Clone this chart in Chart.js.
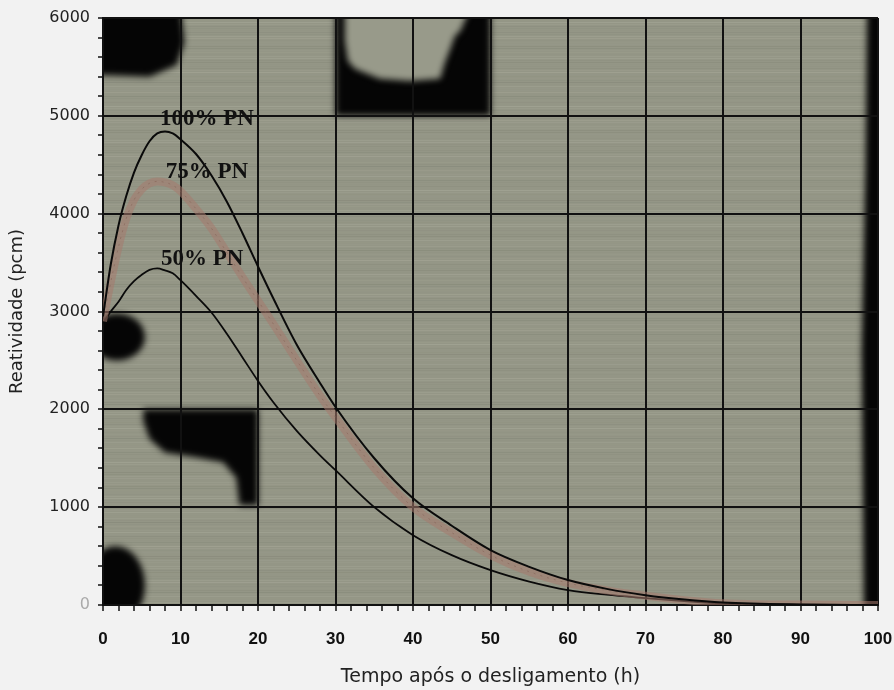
<!DOCTYPE html>
<html>
<head>
<meta charset="utf-8">
<script src="https://cdn.jsdelivr.net/npm/chart.js@4.4.1/dist/chart.umd.min.js"></script>
<style>
  html, body { margin: 0; padding: 0; background: #f2f2f2; }
  #wrap { width: 894px; height: 690px; }
</style>
</head>
<body>
<div id="wrap"><canvas id="chartXenonio"></canvas></div>
<script>
// tempo apos o desligamento (h)
var tempo = [0, 1, 2, 3, 4, 5, 6, 7, 8, 9, 10, 12, 14, 16, 18, 20, 22, 25, 28, 30, 35, 40, 45, 50, 55, 60, 65, 70, 75, 80, 90, 100];
// reatividade (pcm)
var pn100 = [2950, 3480, 3880, 4180, 4420, 4600, 4740, 4820, 4840, 4820, 4760, 4610, 4390, 4120, 3800, 3460, 3130, 2660, 2270, 2024, 1500, 1090, 810, 561, 390, 255, 165, 100, 55, 25, 5, 0];
var pn75 = [2900, 3300, 3660, 3950, 4140, 4250, 4310, 4330, 4320, 4290, 4230, 4050, 3850, 3600, 3350, 3110, 2870, 2500, 2140, 1920, 1400, 1000, 740, 510, 340, 224, 150, 95, 50, 18, 4, 0];
var pn50 = [2880, 3000, 3100, 3220, 3310, 3375, 3425, 3440, 3420, 3390, 3320, 3160, 2990, 2770, 2530, 2290, 2070, 1780, 1530, 1378, 1000, 714, 510, 357, 240, 153, 105, 71, 40, 15, 3, 0];
var rotulos = ['100% PN', '75% PN', '50% PN'];

function pontos(vals) {
  return tempo.map(function(t, i) { return {x: t, y: vals[i]}; });
}

// fundo "fotocopiado": cor esverdeada, riscos horizontais e manchas pretas
var fundo = {
  id: 'fundo',
  beforeDraw: function(chart) {
    var c = chart.ctx, a = chart.chartArea, sx = chart.scales.x, sy = chart.scales.y;
    function X(v) { return sx.getPixelForValue(v); }
    function Y(v) { return sy.getPixelForValue(v); }
    c.save();
    c.beginPath();
    c.rect(a.left, a.top, a.right - a.left, a.bottom - a.top);
    c.clip();
    c.fillStyle = 'rgb(148,150,134)';
    c.fillRect(a.left, a.top, a.right - a.left, a.bottom - a.top);
    for (var yy = a.top; yy < a.bottom; yy += 2) {
      var s = Math.sin(yy * 0.9) + Math.sin(yy * 0.37);
      c.fillStyle = s > 0 ? 'rgba(190,190,175,' + (0.14 * s) + ')' : 'rgba(90,95,80,' + (-0.08 * s) + ')';
      c.fillRect(a.left, yy, a.right - a.left, 1);
    }
    c.filter = 'blur(3px)';
    c.fillStyle = '#050505';
    function poly(p) {
      c.beginPath();
      c.moveTo(X(p[0][0]), Y(p[0][1]));
      for (var i = 1; i < p.length; i++) c.lineTo(X(p[i][0]), Y(p[i][1]));
      c.closePath();
      c.fill();
    }
    // canto superior esquerdo
    poly([[-1, 6100], [10, 6100], [10.5, 5750], [9.5, 5520], [6, 5400], [-1, 5420]]);
    // bloco superior 30-50 h
    poly([[30, 6100], [50, 6100], [50, 5000], [30, 5000]]);
    // mancha a esquerda perto de 3000
    c.beginPath();
    c.ellipse(X(1.8), Y(2740), X(3.6) - X(0), Y(2500) - Y(2740), 0, 0, Math.PI * 2);
    c.fill();
    // bloco 5-20 h, 1000-2000
    poly([[5.2, 2000], [20, 2000], [20, 1020], [17.6, 1020], [17.2, 1300], [15.5, 1460], [12, 1510], [8, 1560], [6, 1700], [5.2, 1880]]);
    // mancha inferior esquerda
    c.beginPath();
    c.ellipse(X(1.6), Y(200), X(3.8) - X(0), Y(0) - Y(400), 0, 0, Math.PI * 2);
    c.fill();
    // borda direita
    poly([[98.6, 6100], [101, 6100], [101, -100], [98.2, -100], [97.9, 2600], [98.4, 4500]]);
    // recorte claro dentro do bloco superior
    c.fillStyle = 'rgb(152,154,138)';
    poly([[31.2, 6100], [47.4, 6100], [46.1, 5867], [45.4, 5816], [44.8, 5684], [44.1, 5541], [43.5, 5378], [39.6, 5357], [35.7, 5378], [32.5, 5480], [31.6, 5561], [31.2, 5765]]);
    c.restore();
  },
  afterDatasetsDraw: function(chart) {
    var c = chart.ctx, sx = chart.scales.x, sy = chart.scales.y;
    var ancora = [[13.4, 4969], [13.4, 4429], [12.8, 3541]];
    c.save();
    c.font = 'bold 23px "Liberation Serif", "Times New Roman", serif';
    c.fillStyle = '#111';
    c.textAlign = 'center';
    c.textBaseline = 'middle';
    rotulos.forEach(function(r, i) {
      c.fillText(r, sx.getPixelForValue(ancora[i][0]), sy.getPixelForValue(ancora[i][1]));
    });
    c.restore();
  }
};

var ctx = document.getElementById('chartXenonio').getContext('2d');
var myChart = new Chart(ctx, {
  type: 'line',
  data: {
    datasets: [
      {
        label: rotulos[0],
        data: pontos(pn100),
        borderColor: '#0a0a0a',
        borderWidth: 2,
        pointRadius: 0,
        cubicInterpolationMode: 'monotone'
      },
      {
        label: rotulos[1],
        data: pontos(pn75),
        borderColor: 'rgba(165,122,110,0.55)',
        borderWidth: 8,
        pointRadius: 0,
        cubicInterpolationMode: 'monotone'
      },
      {
        label: rotulos[1],
        data: pontos(pn75),
        borderColor: 'rgba(95,70,62,0.6)',
        borderWidth: 1,
        borderDash: [2, 5],
        pointRadius: 0,
        cubicInterpolationMode: 'monotone'
      },
      {
        label: rotulos[2],
        data: pontos(pn50),
        borderColor: '#0a0a0a',
        borderWidth: 1.8,
        pointRadius: 0,
        cubicInterpolationMode: 'monotone'
      }
    ]
  },
  options: {
    responsive: true,
    maintainAspectRatio: false,
    animation: false,
    layout: { padding: { top: 18, right: 16, left: 0, bottom: 0 } },
    plugins: {
      legend: { display: false },
      tooltip: { enabled: false }
    },
    scales: {
      x: {
        type: 'linear',
        min: 0,
        max: 100,
        afterFit: function(s) { s.height = 85; s.paddingLeft = 0; s.paddingRight = 0; },
        border: { display: true, color: '#111', width: 2 },
        grid: {
          color: function(c) { return c.tick && c.tick.value % 10 === 0 ? '#111' : 'rgba(0,0,0,0)'; },
          lineWidth: 2,
          tickColor: '#111',
          tickWidth: 1.5,
          tickLength: 6
        },
        ticks: {
          stepSize: 2,
          autoSkip: false,
          maxRotation: 0,
          padding: 18,
          color: '#111',
          font: { family: '"Liberation Sans", Arial, sans-serif', size: 17, weight: 'bold' },
          callback: function(v) { return v % 10 === 0 ? v : ''; }
        },
        title: {
          display: true,
          text: 'Tempo após o desligamento (h)',
          color: '#222',
          padding: { top: 2, bottom: 2 },
          font: { family: '"DejaVu Sans", sans-serif', size: 19 }
        }
      },
      y: {
        min: 0,
        max: 6000,
        afterFit: function(s) { s.width = 103; },
        border: { display: true, color: '#111', width: 2 },
        grid: {
          color: function(c) { return c.tick && c.tick.value % 1000 === 0 ? '#111' : 'rgba(0,0,0,0)'; },
          lineWidth: 2,
          tickColor: '#111',
          tickWidth: 1.5,
          tickLength: 5
        },
        ticks: {
          stepSize: 200,
          autoSkip: false,
          padding: 8,
          color: function(c) { return c.tick.value === 0 ? '#aaa' : '#222'; },
          font: { family: '"DejaVu Sans", sans-serif', size: 16 },
          callback: function(v) { return v % 1000 === 0 ? v : ''; }
        },
        title: {
          display: true,
          text: 'Reatividade (pcm)',
          color: '#222',
          padding: { top: 7, bottom: 7 },
          font: { family: '"DejaVu Sans", sans-serif', size: 18 }
        }
      }
    }
  },
  plugins: [fundo]
});
</script>
</body>
</html>
